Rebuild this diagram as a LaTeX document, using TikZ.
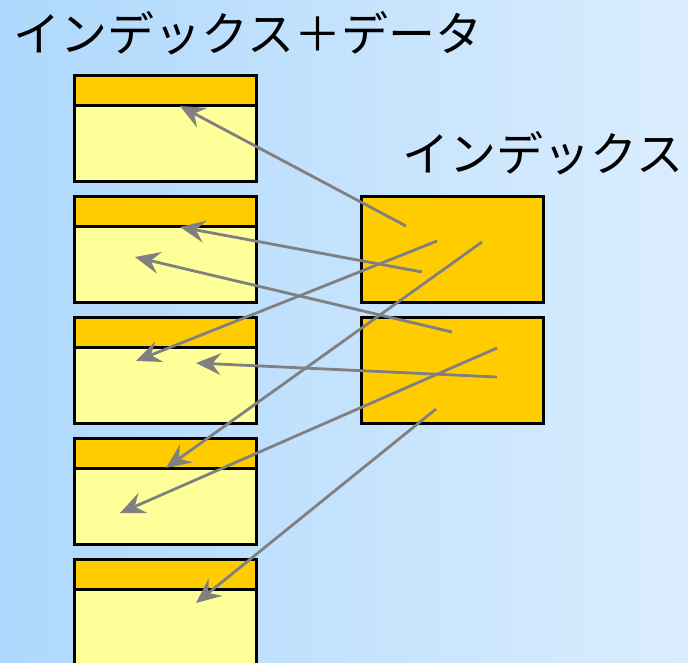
\documentclass[tikz,border=0pt]{standalone}
\usepackage{fontspec}
\newfontfamily\jpfont{Noto Sans CJK JP}
\usetikzlibrary{arrows.meta}
\definecolor{bgL}{RGB}{174,216,252}
\definecolor{bgR}{RGB}{218,237,254}
\definecolor{hdr}{RGB}{255,204,0}
\definecolor{body}{RGB}{255,255,153}
\definecolor{arr}{RGB}{128,128,128}
\tikzset{
  recbox/.style={draw=black, line width=3pt, fill=body, minimum width=182pt, minimum height=106pt, inner sep=0pt, outer sep=0pt},
  hdrbox/.style={draw=black, line width=3pt, fill=hdr, minimum width=182pt, minimum height=30pt, inner sep=0pt, outer sep=0pt},
  idxbox/.style={draw=black, line width=3pt, fill=hdr, minimum width=182pt, minimum height=106pt, inner sep=0pt, outer sep=0pt},
  ptr/.style={draw=arr, line width=2.8pt, -{Stealth[length=25pt, width=22pt, inset=9pt]}},
  lbl/.style={font=\jpfont\fontsize{47pt}{50pt}\selectfont, inner sep=0pt}
}
\begin{document}
\begin{tikzpicture}[x=1pt, y=-1pt]
\useasboundingbox (0,0) rectangle (688,662);
\shade[left color=bgL, right color=bgR] (0,0) rectangle (688,662);
\begin{scope}
\clip (0,0) rectangle (688,662);
% left records
\foreach \i/\t in {1/75,2/196,3/317,4/438,5/559}{
  \node[recbox, anchor=north west] (r\i) at (74,\t) {};
  \node[hdrbox, anchor=north west] (h\i) at (74,\t) {};
}
\end{scope}
% index boxes
\node[idxbox, anchor=north west] (ia) at (361,196) {};
\node[idxbox, anchor=north west] (ib) at (361,317) {};
% labels
\node[lbl] (t1) at (248,33) {インデックス＋データ};
\node[lbl] (t2) at (543,153) {インデックス};
% pointer end coordinates
\coordinate (s1) at (406,226);
\coordinate (s2) at (422,272);
\coordinate (s3) at (452,332);
\coordinate (s4) at (437,241);
\coordinate (s5) at (497,377);
\coordinate (s6) at (482,242);
\coordinate (s7) at (497,348);
\coordinate (s8) at (436,409);
\coordinate (e1) at (180,106);
\coordinate (e2) at (180,227);
\coordinate (e3) at (135,257);
\coordinate (e4) at (136,361);
\coordinate (e5) at (196,363);
\coordinate (e6) at (166,468);
\coordinate (e7) at (120,513);
\coordinate (e8) at (196,603);
\foreach \k in {1,...,8}{
  \draw[ptr] (s\k) -- (e\k);
}
\end{tikzpicture}
\end{document}
